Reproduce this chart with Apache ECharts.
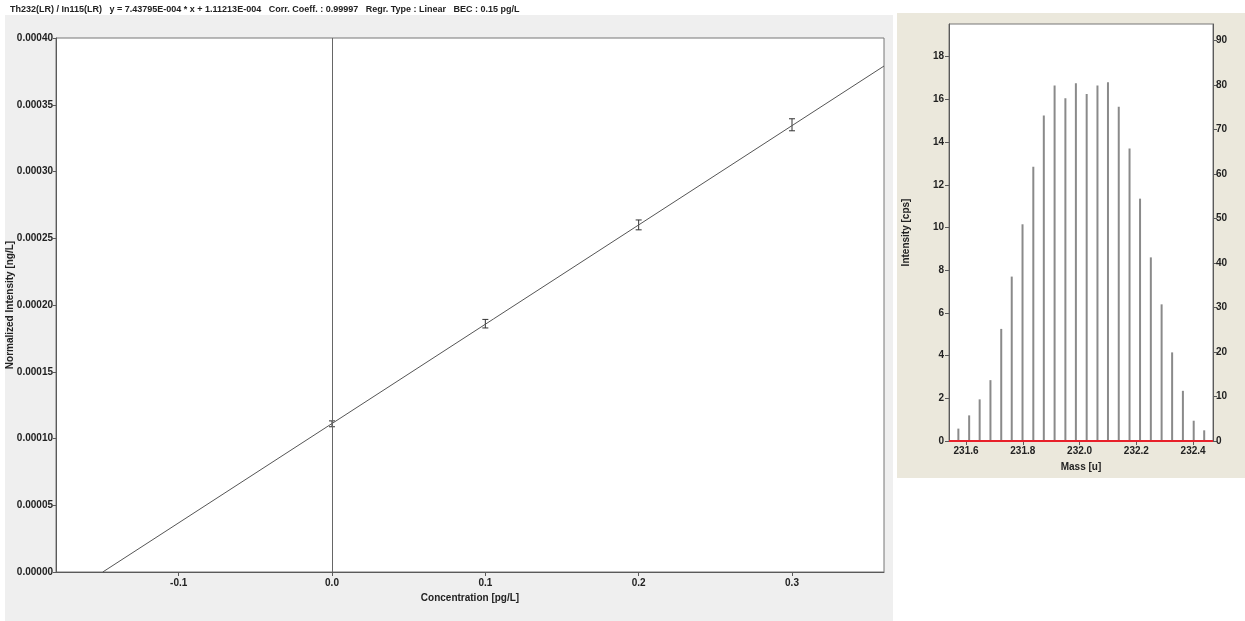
<!DOCTYPE html>
<html>
<head>
<meta charset="utf-8">
<script src="https://cdn.jsdelivr.net/npm/echarts@6/dist/echarts.min.js"></script>
<style>
html, body { margin: 0; padding: 0; background: #fff; }
#main { width: 1245px; height: 621px; }
</style>
</head>
<body>
<div id="main"></div>
<script>
// 标准曲线数据 (左图)
var concValues = [0.0, 0.1, 0.2, 0.3];
var intensityValues = [0.000111, 0.000186, 0.000260, 0.000335];
var errorValues = [0.0000022, 0.0000032, 0.0000037, 0.0000045];
// 回归线两个端点
var fitX = [-0.1495, 0.36];
var fitY = [0.0, 0.000379];
var concTicks = [-0.1, 0.0, 0.1, 0.2, 0.3];
var normTicks = [0, 0.00005, 0.0001, 0.00015, 0.0002, 0.00025, 0.0003, 0.00035, 0.0004];

// 质谱峰数据 (右图)
var massValues = [231.573, 231.611, 231.648, 231.686, 231.724, 231.761, 231.799, 231.837, 231.874, 231.912,
    231.950, 231.987, 232.025, 232.063, 232.100, 232.138, 232.176, 232.213, 232.251, 232.289,
    232.326, 232.364, 232.402, 232.439];
var cpsValues = [0.58, 1.2, 1.95, 2.85, 5.25, 7.7, 10.15, 12.85, 15.25, 16.65,
    16.05, 16.75, 16.25, 16.65, 16.8, 15.65, 13.7, 11.35, 8.6, 6.4,
    4.15, 2.35, 0.95, 0.5];
var massTicks = [231.6, 231.8, 232.0, 232.2, 232.4];
var cpsTicks = [0, 2, 4, 6, 8, 10, 12, 14, 16, 18];
var rightTicks = [0, 10, 20, 30, 40, 50, 60, 70, 80, 90];

var titleText = 'Th232(LR) / In115(LR)   y = 7.43795E-004 * x + 1.11213E-004   Corr. Coeff. : 0.99997   Regr. Type : Linear   BEC : 0.15 pg/L';

var fontName = "'Liberation Sans', Arial, sans-serif";
var axisColor = '#5a5a5a';
var labelStyle = {
    fontFamily: fontName,
    fontWeight: 'bold',
    fontSize: 10,
    color: '#222'
};

function axisLab(extra) {
    var o = {};
    for (var k in labelStyle) { o[k] = labelStyle[k]; }
    for (var j in extra) { o[j] = extra[j]; }
    return o;
}

var fitData = fitX.map(function (x, i) { return [x, fitY[i]]; });
var pointData = concValues.map(function (x, i) { return [x, intensityValues[i], errorValues[i]]; });
var stickData = massValues.map(function (m, i) { return [m, cpsValues[i]]; });

var myChart = echarts.init(document.getElementById('main'));
var option = {
    backgroundColor: '#fff',
    animation: false,
    title: {
        text: titleText,
        left: 5,
        top: 0,
        textStyle: { fontFamily: fontName, fontWeight: 'bold', fontSize: 9, color: '#222' }
    },
    // 面板背景
    graphic: [
        { type: 'rect', z: -10, shape: { x: 5, y: 15, width: 888, height: 606 }, style: { fill: '#efefef' } },
        { type: 'rect', z: -10, shape: { x: 897, y: 13, width: 348, height: 465 }, style: { fill: '#ebe8dc' } }
    ],
    grid: [
        { left: 56, top: 38, right: 361, bottom: 49, outerBoundsMode: 'none', containLabel: false, show: true, backgroundColor: '#fff', borderColor: '#777', borderWidth: 1 },
        { left: 949, top: 24, right: 32, bottom: 180, outerBoundsMode: 'none', containLabel: false, show: true, backgroundColor: '#fff', borderColor: '#777', borderWidth: 1 }
    ],
    xAxis: [{
        gridIndex: 0,
        type: 'value',
        min: -0.18,
        max: 0.36,
        name: 'Concentration [pg/L]',
        nameLocation: 'middle',
        nameGap: 20,
        nameTextStyle: axisLab({}),
        splitLine: { show: false },
        axisLine: { onZero: false, lineStyle: { color: axisColor } },
        axisTick: { customValues: concTicks, length: 4, lineStyle: { color: axisColor } },
        axisLabel: axisLab({ customValues: concTicks, margin: 6, formatter: function (v) { return v.toFixed(1); } })
    }, {
        gridIndex: 1,
        type: 'value',
        min: 231.54,
        max: 232.47,
        name: 'Mass [u]',
        nameLocation: 'middle',
        nameGap: 21,
        nameTextStyle: axisLab({}),
        splitLine: { show: false },
        axisLine: { onZero: false, lineStyle: { color: axisColor } },
        axisTick: { customValues: massTicks, length: 4, lineStyle: { color: axisColor } },
        axisLabel: axisLab({ customValues: massTicks, margin: 5, formatter: function (v) { return v.toFixed(1); } })
    }],
    yAxis: [{
        gridIndex: 0,
        type: 'value',
        min: 0,
        max: 0.0004,
        name: 'Normalized Intensity [ng/L]',
        nameLocation: 'middle',
        nameGap: 41,
        nameMoveOverlap: false,
        nameTextStyle: axisLab({}),
        splitLine: { show: false },
        axisLine: { show: true, onZero: false, lineStyle: { color: axisColor } },
        axisTick: { show: true, customValues: normTicks, length: 3, lineStyle: { color: axisColor } },
        axisLabel: axisLab({ customValues: normTicks, margin: 3, formatter: function (v) { return v.toFixed(5); } })
    }, {
        gridIndex: 1,
        type: 'value',
        min: 0,
        max: 19.53,
        name: 'Intensity [cps]',
        nameLocation: 'middle',
        nameGap: 38,
        nameTextStyle: axisLab({}),
        splitLine: { show: false },
        axisLine: { show: true, onZero: false, lineStyle: { color: axisColor } },
        axisTick: { show: true, customValues: cpsTicks, length: 4, lineStyle: { color: axisColor } },
        axisLabel: axisLab({ customValues: cpsTicks, margin: 5 })
    }, {
        gridIndex: 1,
        type: 'value',
        position: 'right',
        min: 0,
        max: 93.7,
        splitLine: { show: false },
        axisLine: { show: true, onZero: false, lineStyle: { color: axisColor } },
        axisTick: { show: true, customValues: rightTicks, length: 4, lineStyle: { color: axisColor } },
        axisLabel: axisLab({ customValues: rightTicks, margin: 3 })
    }],
    series: [{
        // 回归线
        type: 'line',
        xAxisIndex: 0,
        yAxisIndex: 0,
        data: fitData,
        symbol: 'none',
        lineStyle: { color: '#555', width: 1 },
        markLine: {
            silent: true,
            symbol: 'none',
            label: { show: false },
            lineStyle: { color: '#666', width: 1, type: 'solid' },
            data: [{ xAxis: 0 }]
        }
    }, {
        // 误差棒
        type: 'custom',
        xAxisIndex: 0,
        yAxisIndex: 0,
        data: pointData,
        renderItem: function (params, api) {
            var x = api.value(0);
            var y = api.value(1);
            var e = api.value(2);
            var top = api.coord([x, y + e]);
            var bot = api.coord([x, y - e]);
            var w = 3;
            var st = { stroke: '#333', lineWidth: 1 };
            return {
                type: 'group',
                children: [
                    { type: 'line', shape: { x1: top[0], y1: top[1], x2: bot[0], y2: bot[1] }, style: st },
                    { type: 'line', shape: { x1: top[0] - w, y1: top[1], x2: top[0] + w, y2: top[1] }, style: st },
                    { type: 'line', shape: { x1: bot[0] - w, y1: bot[1], x2: bot[0] + w, y2: bot[1] }, style: st }
                ]
            };
        }
    }, {
        // 质谱峰
        type: 'bar',
        xAxisIndex: 1,
        yAxisIndex: 1,
        data: stickData,
        barWidth: 2,
        itemStyle: { color: '#8a8a8a' },
        markLine: {
            silent: true,
            symbol: 'none',
            label: { show: false },
            lineStyle: { color: '#e8202a', width: 2, type: 'solid' },
            data: [{ yAxis: 0 }]
        }
    }]
};
myChart.setOption(option);
</script>
</body>
</html>
